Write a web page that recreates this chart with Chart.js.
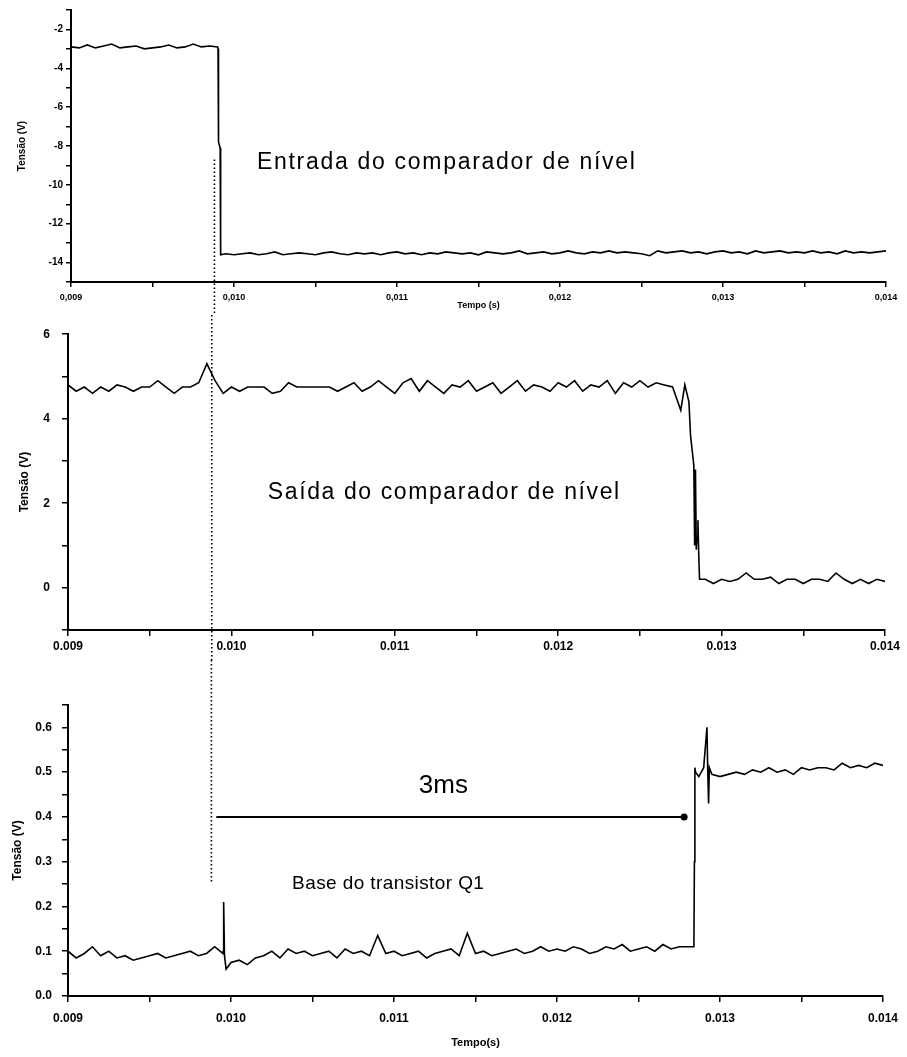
<!DOCTYPE html>
<html>
<head>
<meta charset="utf-8">
<script src="https://cdn.jsdelivr.net/npm/chart.js@4.4.1/dist/chart.umd.min.js"></script>
<style>
  body { margin: 0; background: #fff; }
  #wrap { position: relative; width: 907px; height: 1057px; }
  canvas { position: absolute; left: 0; }
</style>
</head>
<body>
<div id="wrap">
  <canvas id="c1" width="907" height="315" style="top:0px"></canvas>
  <canvas id="c2" width="907" height="345" style="top:315px"></canvas>
  <canvas id="c3" width="907" height="397" style="top:660px"></canvas>
</div>
<script>
// time grid, 0.009 s .. 0.014 s every 50 us
const times = [];
for (let i = 0; i <= 100; i++) times.push(+(0.009 + i * 0.00005).toFixed(5));

// panel 1: entrada do comparador (V)
const entradaV = [
  -2.9, -2.95, -2.8, -2.95, -2.85, -2.75, -2.95, -2.9, -2.85, -3.0,
  -2.95, -2.9, -2.8, -2.95, -2.9, -2.75, -2.9, -2.85, -2.9,
  -13.55,
  -13.6, -13.55, -13.5, -13.6, -13.55, -13.45, -13.6, -13.55, -13.5,
  -13.55, -13.6, -13.5, -13.45, -13.55, -13.6, -13.5, -13.55, -13.5, -13.6,
  -13.5, -13.45, -13.55, -13.5, -13.6, -13.5, -13.55, -13.45, -13.5, -13.55,
  -13.5, -13.6, -13.45, -13.5, -13.55, -13.5, -13.4, -13.55, -13.5, -13.45,
  -13.55, -13.5, -13.4, -13.5, -13.55, -13.45, -13.5, -13.4, -13.5, -13.45,
  -13.5, -13.55, -13.65, -13.4, -13.5, -13.45, -13.4, -13.5, -13.45, -13.55,
  -13.45, -13.4, -13.5, -13.45, -13.55, -13.4, -13.5, -13.45, -13.4, -13.5,
  -13.45, -13.5, -13.4, -13.5, -13.45, -13.55, -13.4, -13.5, -13.45, -13.5,
  -13.45, -13.4
];
const entradaEdgeT = [0.009902, 0.009905, 0.009915, 0.009918];
const entradaEdgeV = [-3.0, -7.8, -8.1, -13.6];

// panel 2: saida do comparador (V)
const saidaV = [
  4.8,
  4.65, 4.75, 4.6, 4.75, 4.65, 4.8, 4.75, 4.65, 4.75,
  4.75, 4.9, 4.75, 4.6, 4.75, 4.75, 4.85, 5.3, 4.9, 4.6,
  4.75, 4.65, 4.75, 4.75, 4.75, 4.6, 4.65, 4.85, 4.75, 4.75,
  4.75, 4.75, 4.75, 4.65, 4.75, 4.85, 4.65, 4.75, 4.9, 4.75,
  4.6, 4.85, 4.95, 4.65, 4.9, 4.75, 4.6, 4.8, 4.75, 4.9,
  4.65, 4.75, 4.85, 4.6, 4.75, 4.9, 4.65, 4.8, 4.75, 4.65,
  4.85, 4.75, 4.9, 4.65, 4.8, 4.75, 4.9, 4.6, 4.85, 4.75,
  4.9, 4.75, 4.85, 4.8, 4.75,
  4.2, 4.4, 1.2,
  0.2, 0.1, 0.2, 0.15, 0.2, 0.35, 0.2, 0.2, 0.25, 0.1, 0.2, 0.2,
  0.1, 0.2, 0.2, 0.15, 0.35, 0.2, 0.1, 0.2, 0.1, 0.2, 0.15
];
const saidaEdgeT = [0.012775, 0.01281, 0.01283, 0.012835, 0.01284, 0.012845, 0.012855, 0.01286, 0.012865];
const saidaEdgeV = [4.8, 3.6, 2.9, 1.0, 2.8, 0.9, 1.6, 0.8, 0.2];

// panel 3: base do transistor Q1 (V)
const baseV = [
  0.1, 0.085, 0.095, 0.11, 0.09, 0.1, 0.085, 0.09, 0.08, 0.085,
  0.09, 0.095, 0.085, 0.09, 0.095, 0.1, 0.09, 0.095, 0.11, 0.095,
  0.075, 0.08, 0.07, 0.085, 0.09, 0.1, 0.085, 0.105, 0.095, 0.1,
  0.09, 0.095, 0.1, 0.085, 0.105, 0.095, 0.1, 0.09, 0.135, 0.095,
  0.1, 0.09, 0.095, 0.1, 0.085, 0.095, 0.1, 0.105, 0.09, 0.14,
  0.095, 0.1, 0.09, 0.095, 0.1, 0.105, 0.095, 0.1, 0.11, 0.1,
  0.105, 0.1, 0.11, 0.105, 0.095, 0.1, 0.11, 0.105, 0.115, 0.1,
  0.105, 0.11, 0.1, 0.115, 0.105, 0.11, 0.11,
  0.5, 0.51,
  0.495, 0.49, 0.495, 0.5, 0.495, 0.505, 0.5, 0.51, 0.5, 0.505, 0.495,
  0.51, 0.505, 0.51, 0.51, 0.505, 0.52, 0.51, 0.515, 0.51, 0.52, 0.515
];
const baseEdgeT = [0.009952, 0.009955, 0.00996, 0.00997, 0.01284, 0.012843, 0.012846, 0.01287, 0.01292, 0.012925, 0.01293, 0.012935];
const baseEdgeV = [0.1, 0.21, 0.09, 0.06, 0.11, 0.3, 0.51, 0.49, 0.6, 0.5, 0.43, 0.51];

// 3ms marker
const spanX = [0.00991, 0.01278];
const spanY = [0.4, 0.4];
const markerX = 0.00988;

function series(values, edgeT, edgeV) {
  const pts = values.map((v, i) => ({ x: times[i], y: v }));
  edgeT.forEach((t, i) => pts.push({ x: t, y: edgeV[i] }));
  pts.sort((a, b) => a.x - b.x);
  return pts;
}

function near(v, step) {
  return Math.abs(v / step - Math.round(v / step)) < 1e-6;
}

const marks = {
  id: "marks",
  afterDatasetsDraw(chart, args, opts) {
    const ctx = chart.ctx;
    const xs = chart.scales.x, ys = chart.scales.y;
    ctx.save();
    if (opts.dotted) {
      const d = opts.dotted;
      const px = xs.getPixelForValue(d.x);
      const top = d.from === undefined ? 0 : ys.getPixelForValue(d.from);
      const bottom = d.to === undefined ? chart.height : ys.getPixelForValue(d.to);
      ctx.setLineDash([1.5, 2.5]);
      ctx.lineWidth = 1.6;
      ctx.strokeStyle = "#000";
      ctx.beginPath();
      ctx.moveTo(px, top);
      ctx.lineTo(px, bottom);
      ctx.stroke();
      ctx.setLineDash([]);
    }
    (opts.notes || []).forEach((n) => {
      ctx.font = n.font;
      ctx.letterSpacing = n.spacing || "0px";
      ctx.fillStyle = "#000";
      ctx.textAlign = "left";
      ctx.textBaseline = "middle";
      ctx.fillText(n.text, xs.getPixelForValue(n.x), ys.getPixelForValue(n.y));
    });
    ctx.restore();
  },
};

function makeChart(id, c) {
  const family = "'Liberation Sans', Arial, sans-serif";
  return new Chart(document.getElementById(id), {
    type: "line",
    data: { datasets: c.datasets },
    options: {
      responsive: false,
      animation: false,
      devicePixelRatio: 1,
      layout: { padding: c.padding },
      plugins: { legend: { display: false }, tooltip: { enabled: false }, marks: c.marks },
      scales: {
        x: {
          type: "linear",
          min: 0.009,
          max: 0.014,
          afterFit: (s) => { s.height = c.xh; },
          ticks: {
            stepSize: 0.0005,
            autoSkip: false,
            maxRotation: 0,
            padding: c.xpad,
            color: "#000",
            font: { family, size: c.xfont, weight: "bold" },
            callback: (v) => (near(v, 0.001) ? c.fmt(v) : ""),
          },
          grid: { drawOnChartArea: false, tickLength: c.tick, color: "#000", lineWidth: 1.5 },
          border: { color: "#000", width: 2 },
          title: {
            display: !!c.xtitle,
            text: c.xtitle || "",
            color: "#000",
            font: { family, size: c.xtfont, weight: "bold" },
            padding: { top: 0, bottom: c.xtpad },
          },
        },
        y: {
          min: c.ymin,
          max: c.ymax,
          afterFit: (s) => { s.width = c.yw; },
          ticks: {
            stepSize: c.ystep,
            autoSkip: false,
            padding: c.ypad,
            color: "#000",
            font: { family, size: c.yfont, weight: "bold" },
            callback: (v) => (near(v, c.ymajor) ? c.yfmt(v) : ""),
          },
          grid: { drawOnChartArea: false, tickLength: c.tick, color: "#000", lineWidth: 1.5 },
          border: { color: "#000", width: 2 },
          title: {
            display: true,
            text: "Tensão (V)",
            color: "#000",
            font: { family, size: c.ytfont, weight: "bold" },
            padding: { top: c.ytpad, bottom: 0 },
          },
        },
      },
    },
    plugins: [marks],
  });
}

const trace = (pts) => ({
  data: pts,
  borderColor: "#000",
  borderWidth: 1.6,
  pointRadius: 0,
  tension: 0,
  fill: false,
});

makeChart("c1", {
  datasets: [trace(series(entradaV, entradaEdgeT, entradaEdgeV))],
  padding: { top: 10, right: 21, left: 0, bottom: 0 },
  xh: 33, xpad: 5, xfont: 9, tick: 5,
  fmt: (v) => v.toFixed(3).replace(".", ","),
  xtitle: "Tempo (s)", xtfont: 9, xtpad: 4,
  ymin: -15, ymax: -1, ystep: 1, ymajor: 2, yw: 71, ypad: 3, yfont: 10,
  yfmt: (v) => String(Math.round(v)),
  ytfont: 10, ytpad: 16,
  marks: {
    dotted: { x: markerX, from: -8.7 },
    notes: [{ text: "Entrada do comparador de nível", x: 0.010141, y: -8.87, font: "23px 'Liberation Sans'", spacing: "1.7px" }],
  },
});

makeChart("c2", {
  datasets: [trace(series(saidaV, saidaEdgeT, saidaEdgeV))],
  padding: { top: 18, right: 22, left: 0, bottom: 0 },
  xh: 30, xpad: 3, xfont: 12, tick: 6,
  fmt: (v) => v.toFixed(3),
  xtitle: "", xtfont: 11, xtpad: 0,
  ymin: -1, ymax: 6, ystep: 1, ymajor: 2, yw: 68, ypad: 12, yfont: 12,
  yfmt: (v) => String(Math.round(v)),
  ytfont: 12, ytpad: 17,
  marks: {
    dotted: { x: markerX },
    notes: [{ text: "Saída do comparador de nível", x: 0.010223, y: 2.25, font: "23px 'Liberation Sans'", spacing: "1.6px" }],
  },
});

makeChart("c3", {
  datasets: [
    trace(series(baseV, baseEdgeT, baseEdgeV)),
    {
      data: spanX.map((x, i) => ({ x, y: spanY[i] })),
      borderColor: "#000",
      borderWidth: 2,
      pointRadius: [0, 3.5],
      pointBackgroundColor: "#000",
      pointBorderWidth: 0,
      tension: 0,
      fill: false,
    },
  ],
  padding: { top: 45, right: 21, left: 0, bottom: 0 },
  xh: 61, xpad: 9, xfont: 12, tick: 6,
  fmt: (v) => v.toFixed(3),
  xtitle: "Tempo(s)", xtfont: 11, xtpad: 7,
  ymin: 0, ymax: 0.65, ystep: 0.05, ymajor: 0.1, yw: 68, ypad: 10, yfont: 12,
  yfmt: (v) => v.toFixed(1),
  ytfont: 12, ytpad: 10,
  marks: {
    dotted: { x: markerX, to: 0.25 },
    notes: [
      { text: "3ms", x: 0.011152, y: 0.47, font: "26px 'Liberation Sans'", spacing: "0px" },
      { text: "Base do transistor Q1", x: 0.010375, y: 0.25, font: "19px 'Liberation Sans'", spacing: "0.4px" },
    ],
  },
});
</script>
</body>
</html>
